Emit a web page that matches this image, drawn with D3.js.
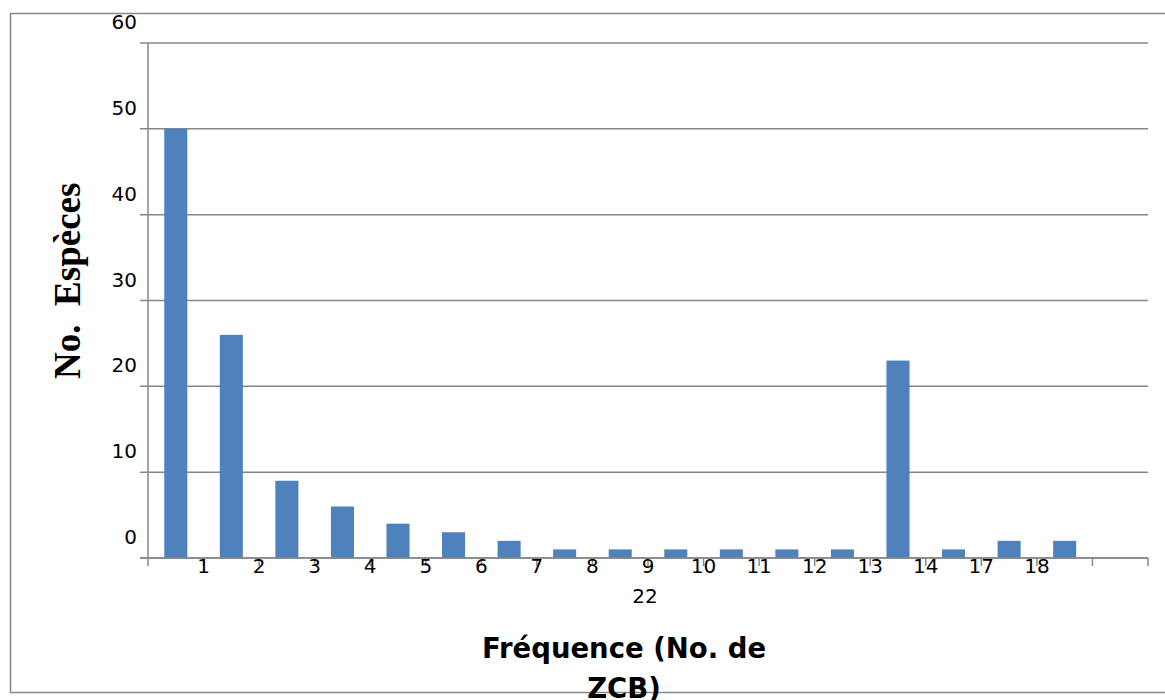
<!DOCTYPE html>
<html>
<head>
<meta charset="utf-8">
<script src="https://cdn.jsdelivr.net/npm/d3@7"></script>
<style>
  body { margin: 0; background: #fff; }
  svg { display: block; }
</style>
</head>
<body>
<div id="container"></div>
<script>
const categories = ["1", "2", "3", "4", "5", "6", "7", "8", "9", "10", "11", "12", "13", "14", "17", "18", "22"],
      values = [50, 26, 9, 6, 4, 3, 2, 1, 1, 1, 1, 1, 1, 23, 1, 2, 2],
      yTicks = [0, 10, 20, 30, 40, 50, 60];

const WIDTH = 1165,
      HEIGHT = 700;

const margin = { top: 43, bottom: 142, left: 148, right: 17 };

const width = WIDTH - margin.left - margin.right,
      height = HEIGHT - margin.top - margin.bottom;

const grey = "#878787",
      labelFont = "'DejaVu Sans', sans-serif";

const svg = d3.select("#container").append("svg")
    .attr("width", WIDTH).attr("height", HEIGHT);

// outer chart border (right edge runs off the picture)
svg.append("rect")
    .attr("x", 10.5).attr("y", 13.5)
    .attr("width", WIDTH + 20).attr("height", 679)
    .attr("fill", "none").attr("stroke", grey).attr("stroke-width", 1.5);

const slots = categories.concat([""]);   // one empty slot at the end of the axis

const xScale = d3.scaleBand()
    .domain(slots)
    .range([margin.left, margin.left + width])
    .paddingInner(0).paddingOuter(0);

const yScale = d3.scaleLinear()
    .domain([0, 60])
    .range([margin.top + height, margin.top]);

const bw = xScale.bandwidth(),
      barW = bw * 0.415;

// gridlines + y ticks
svg.append("g")
    .selectAll("line")
    .data(yTicks)
    .join("line")
    .attr("x1", margin.left - 8)
    .attr("x2", margin.left + width)
    .attr("y1", (d) => yScale(d))
    .attr("y2", (d) => yScale(d))
    .attr("stroke", grey).attr("stroke-width", 1.5);

// y axis line
svg.append("line")
    .attr("x1", margin.left).attr("x2", margin.left)
    .attr("y1", yScale(60)).attr("y2", yScale(0) + 8)
    .attr("stroke", grey).attr("stroke-width", 1.5);

// y tick labels (sit above their gridlines, as in the original)
svg.append("g")
    .selectAll("text")
    .data(yTicks)
    .join("text")
    .attr("x", margin.left - 11)
    .attr("y", (d) => yScale(d) - 14)
    .attr("text-anchor", "end")
    .style("font-family", labelFont)
    .style("font-size", "20px")
    .attr("fill", "#000")
    .text((d) => d);

// x tick marks at band boundaries
svg.append("g")
    .selectAll("line")
    .data(slots)
    .join("line")
    .attr("x1", (d) => xScale(d) + bw)
    .attr("x2", (d) => xScale(d) + bw)
    .attr("y1", yScale(0))
    .attr("y2", yScale(0) + 8)
    .attr("stroke", grey).attr("stroke-width", 1.5);

// bars
svg.append("g")
    .selectAll("rect")
    .data(values)
    .join("rect")
    .attr("x", (d, i) => xScale(categories[i]) + (bw - barW) / 2)
    .attr("width", barW)
    .attr("y", (d) => yScale(d))
    .attr("height", (d) => yScale(0) - yScale(d))
    .attr("fill", "#4F81BD");

// x tick labels: drawn on the band boundaries; the last one wraps to a second line
const xMid = margin.left + width / 2;
svg.append("g")
    .selectAll("text")
    .data(categories)
    .join("text")
    .attr("x", (d, i) => i === categories.length - 1 ? xMid - 3 : xScale(d) + bw)
    .attr("y", (d, i) => i === categories.length - 1 ? yScale(0) + 45 : yScale(0) + 15)
    .attr("text-anchor", "middle")
    .style("font-family", labelFont)
    .style("font-size", "20px")
    .attr("fill", "#000")
    .text((d) => d);

// x axis line
svg.append("line")
    .attr("x1", margin.left - 8).attr("x2", margin.left + width)
    .attr("y1", yScale(0)).attr("y2", yScale(0))
    .attr("stroke", grey).attr("stroke-width", 1.5);

// axis titles
svg.append("text")
    .attr("transform", `translate(80, ${yScale(32.3)}) rotate(-90)`)
    .attr("text-anchor", "middle")
    .style("font-family", "'Liberation Serif', 'Times New Roman', serif")
    .style("font-weight", "bold")
    .style("font-size", "37px")
    .style("white-space", "pre")
    .text("No.  Espèces");

const xTitle = svg.append("text")
    .attr("text-anchor", "middle")
    .style("font-family", labelFont)
    .style("font-weight", "bold")
    .style("font-size", "27.5px");

xTitle.append("tspan").attr("x", xMid - 24).attr("y", 658).text("Fréquence (No. de");
xTitle.append("tspan").attr("x", xMid - 24).attr("y", 698).text("ZCB)");
</script>
</body>
</html>
